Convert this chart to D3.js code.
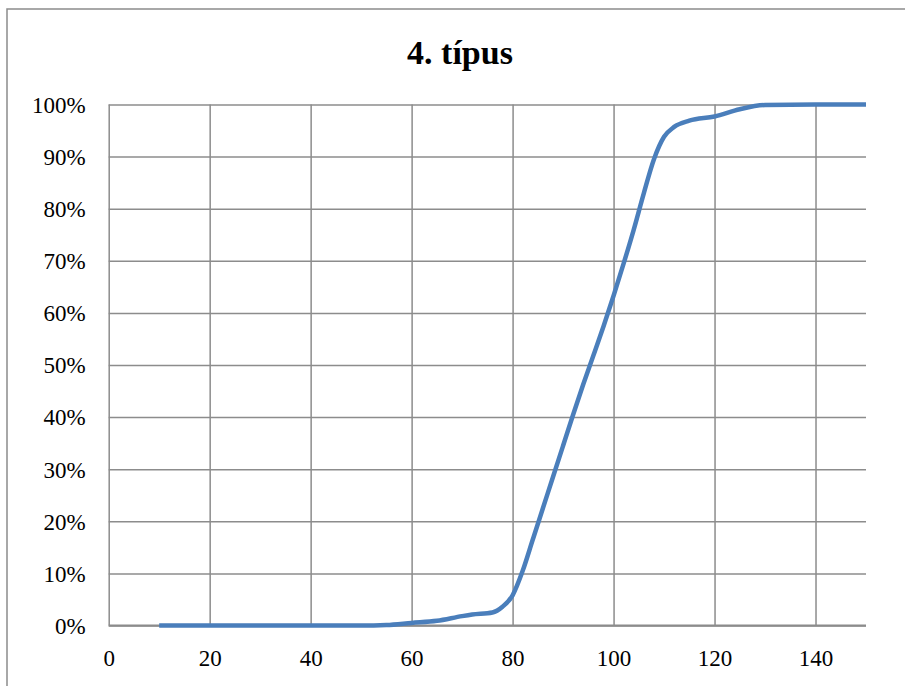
<!DOCTYPE html>
<html>
<head>
<meta charset="utf-8">
<script src="https://cdn.jsdelivr.net/npm/d3@7"></script>
<style>
  html, body { margin: 0; padding: 0; background: #fff; }
  svg { display: block; }
  text { font-family: "Liberation Serif", "Times New Roman", serif; fill: #000; }
</style>
</head>
<body>
<svg id="chart" width="905" height="686"></svg>
<script>
// Cumulative share by size class
const titleText = "4. típus";
const sizes   = [10, 20, 30, 40, 50, 55, 60, 65, 70, 72, 76, 78, 80, 82, 84, 86, 88, 90, 92, 94, 96, 98, 100, 102, 104, 106, 108, 110, 112, 115, 120, 125, 130, 140, 150];
const shares  = [0, 0, 0, 0, 0, 0.1, 0.5, 0.9, 1.8, 2.1, 2.5, 3.6, 5.8, 10.5, 16.5, 22.5, 28.5, 34.5, 40.5, 46.3, 51.8, 57.4, 63.3, 69.5, 76, 83, 89.5, 93.8, 95.7, 96.9, 97.7, 99.1, 99.9, 100, 100];
const xTicks  = [0, 20, 40, 60, 80, 100, 120, 140];
const yTicks  = [0, 10, 20, 30, 40, 50, 60, 70, 80, 90, 100];

const svg = d3.select("#chart");
const W = 905, H = 686;
const plot = { left: 108.7, right: 866, top: 104.5, bottom: 625.5 };

const x = d3.scaleLinear().domain([0, 150]).range([plot.left, plot.right]);
const y = d3.scaleLinear().domain([0, 100]).range([plot.bottom, plot.top]);

const gridColor = "#8c8c8c";

// outer chart frame
svg.append("rect")
  .attr("x", 7).attr("y", 9)
  .attr("width", W + 20).attr("height", H + 20)
  .attr("fill", "none").attr("stroke", gridColor).attr("stroke-width", 1.5);

// title
svg.append("text")
  .attr("x", 460).attr("y", 64)
  .attr("text-anchor", "middle")
  .style("font-size", "34px").style("font-weight", "bold")
  .text(titleText);

// horizontal gridlines and y labels
const yAxis = d3.axisLeft(y).tickValues(yTicks).tickSize(-(plot.right - plot.left))
  .tickPadding(22).tickFormat(d => d + "%");
const gy = svg.append("g").attr("transform", `translate(${plot.left},0)`).call(yAxis);
gy.select(".domain").remove();
gy.selectAll(".tick line").attr("stroke", gridColor).attr("stroke-width", 1.5);
gy.selectAll(".tick text").style("font-size", "23px").attr("dy", "0.34em").attr("x", -23);

// vertical gridlines and x labels
const xAxis = d3.axisBottom(x).tickValues(xTicks).tickSize(-(plot.bottom - plot.top))
  .tickPadding(0).tickFormat(d3.format("d"));
const gx = svg.append("g").attr("transform", `translate(0,${plot.bottom})`).call(xAxis);
gx.select(".domain").remove();
gx.selectAll(".tick line").attr("stroke", gridColor).attr("stroke-width", 1.5);
gx.selectAll(".tick text").style("font-size", "23px").attr("y", 40).attr("dy", 0);

// x axis baseline across the full range
svg.append("line")
  .attr("x1", plot.left).attr("x2", plot.right)
  .attr("y1", plot.bottom).attr("y2", plot.bottom)
  .attr("stroke", gridColor).attr("stroke-width", 2);

// cumulative curve
const pts = sizes.map((s, i) => [s, shares[i]]);
const line = d3.line()
  .x(d => x(d[0])).y(d => y(d[1]))
  .curve(d3.curveMonotoneX);
svg.append("path")
  .datum(pts)
  .attr("d", line)
  .attr("fill", "none")
  .attr("stroke", "#4a7ebb")
  .attr("stroke-width", 4.5)
  .attr("stroke-linejoin", "round");
</script>
</body>
</html>
